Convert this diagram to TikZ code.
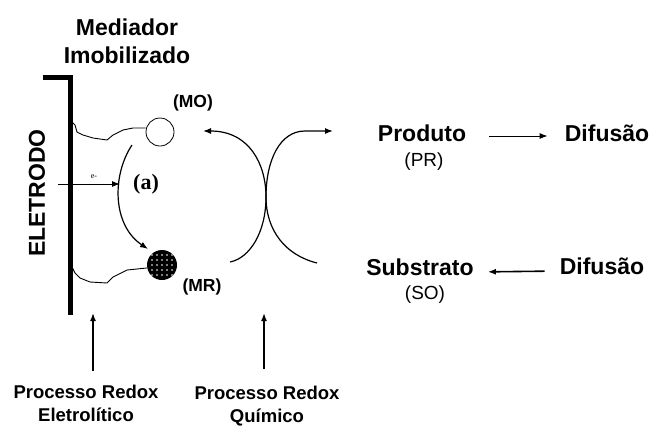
\documentclass[tikz,border=0pt]{standalone}
\usepackage{fontspec}
\setmainfont{Liberation Sans}
\newfontfamily\romanbf{Liberation Serif}
\usetikzlibrary{arrows.meta}

\tikzset{
  biglabel/.style={font=\bfseries\fontsize{23}{28}\selectfont, align=center, inner sep=0pt},
  tag/.style={font=\fontsize{19}{20}\selectfont, inner sep=0pt},
  boldtag/.style={font=\bfseries\fontsize{17.5}{20}\selectfont, inner sep=0pt},
  proclabel/.style={font=\bfseries\fontsize{18.5}{23}\selectfont, align=center, inner sep=0pt},
  tether/.style={line width=0.9pt, line join=round},
  curve/.style={line width=1.2pt},
}

\begin{document}
\begin{tikzpicture}[x=1pt,y=-1pt,>={Latex[length=8pt,width=6pt]}]
        \useasboundingbox (0,0) rectangle (652,426);
        % electrode
        \draw[line width=5pt] (43,77) -| (70,315);
        \node[biglabel, rotate=90] (eletrodo) at (37,193) {ELETRODO};
        \node[biglabel] (mediador) at (127,41) {Mediador\\Imobilizado};
        % immobilised mediator
        \node[circle, draw, line width=0.8pt, minimum size=28pt, inner sep=0pt] (mo) at (160,132) {};
        \node[circle, fill=black, minimum size=30pt, inner sep=0pt,
              path picture={\foreach \i in {-2,...,2} \foreach \j in {-2,...,2}
                \fill[white] ([shift={(\i*5pt,\j*5pt)}]path picture bounding box.center) circle (0.9pt);}] (mr) at (162,265) {};
        \node[boldtag] (molab) at (193,103) {(MO)};
        \node[boldtag] (mrlab) at (202,287) {(MR)};
        \draw[tether] (72,122) -- (75,125) -- (77,132) -- (83,135) -- (93,138) -- (107,140)
              -- (113,135) -- (123,130) -- (133,128) -- (mo.west |- 0,128);
        \draw[tether] (72,267) -- (75,273) -- (80,278) -- (90,282) -- (107,283) -- (113,277)
              -- (127,270) -- (mr.west |- 0,268);
        % electron transfer
        \coordinate (estart) at (58,184);
        \coordinate (eend) at (120,184);
        \draw[->, line width=1pt] (estart) -- (eend);
        \node[font=\romanbf\fontsize{8}{8}\selectfont, inner sep=0pt] (elabel) at (94,177) {e-};
        \coordinate (astart) at (132,145);
        \coordinate (aend) at (148,249);
        \draw[->, curve] (astart) .. controls (112,175) and (112,225) .. (aend);
        \node[font=\romanbf\bfseries\fontsize{22}{22}\selectfont, inner sep=0pt] (alabel) at (146,184) {(a)};
        % chemical redox
        \draw[<-, curve] (203,131) .. controls (250,131) and (266,165) .. (266,197)
              .. controls (266,232) and (250,258) .. (230,262);
        \draw[->, curve] (317,263) .. controls (285,255) and (266,230) .. (266,197)
              .. controls (266,160) and (280,131) .. (305,131) -- (333,131);
        % product and substrate
        \node[biglabel] (produto) at (422,133) {Produto};
        \node[tag] (pr) at (424,162) {(PR)};
        \node[biglabel] (difa) at (607,133) {Difusão};
        \draw[->, line width=1pt, shorten <=23pt, shorten >=17pt]
              ([yshift=-3pt]produto.east) -- ([yshift=-3pt]difa.west);
        \node[biglabel] (substrato) at (420,267) {Substrato};
        \node[tag] (so) at (425,295) {(SO)};
        \node[biglabel] (difb) at (602,266) {Difusão};
        \draw[->, line width=1.6pt, shorten <=15pt, shorten >=14pt]
              ([yshift=-5pt]difb.west) -- ([yshift=-5pt]substrato.east);
        % processes
        \node[proclabel] (eletrolitico) at (86,403) {Processo Redox\\Eletrolítico};
        \node[proclabel] (quimico) at (267,406) {Processo Redox\\Químico};
        \coordinate (eletip) at (93,313);
        \coordinate (quitip) at (264,313);
        \draw[->, line width=1.5pt, shorten <=14pt] (eletrolitico.north -| eletip) -- (eletip);
        \draw[->, line width=1.5pt, shorten <=17pt] (quimico.north -| quitip) -- (quitip);
    \end{tikzpicture}
\end{document}
